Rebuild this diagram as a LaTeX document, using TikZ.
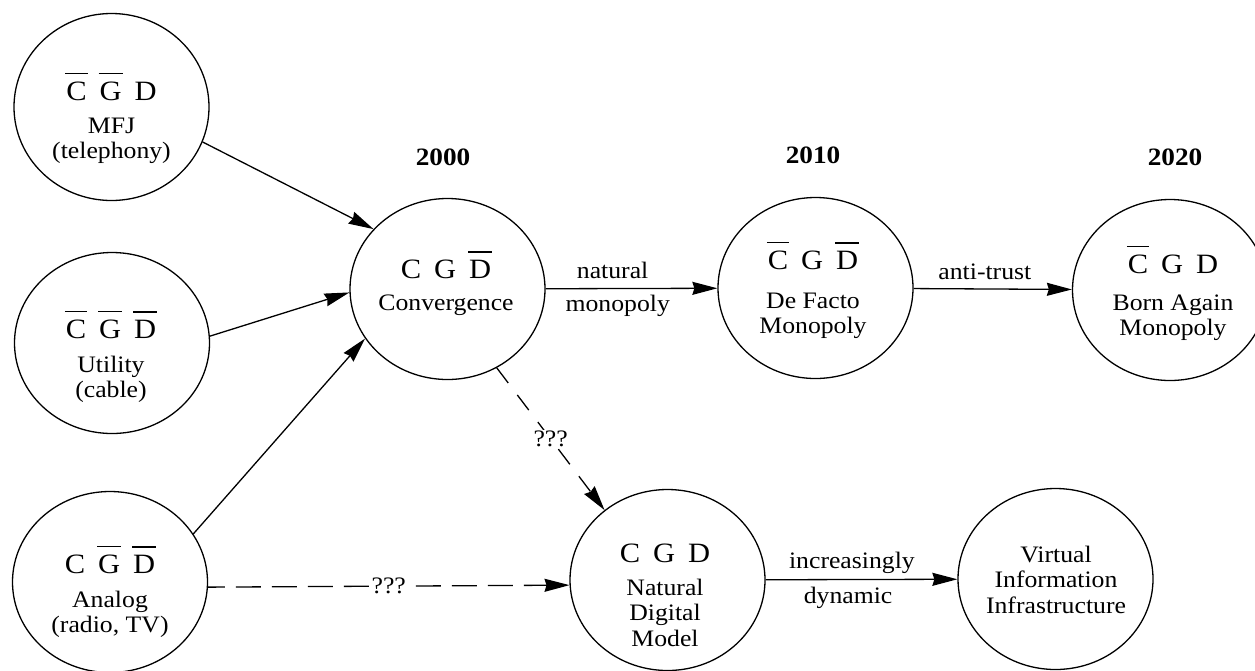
\documentclass[tikz,border=0pt]{standalone}
\usepackage{fontspec}
\setmainfont{Liberation Serif}[FakeStretch=1.09]
\usetikzlibrary{arrows.meta,shapes.geometric}
\newsavebox\ovlbox
\newcommand\ovl[1]{\sbox\ovlbox{#1}\rlap{\hbox to \wd\ovlbox{\hss\rule[\dimexpr\ht\ovlbox+7pt\relax]{\dimexpr\wd\ovlbox+2pt\relax}{1.3pt}\hss}}\usebox\ovlbox}
\newcommand\cgd[3]{{\fontsize{28}{30}\selectfont #1\hspace{13pt}#2\hspace{13pt}#3}}
\newcommand\bodyfont{\fontsize{23.6}{25.5}\selectfont}
\newcommand\yearfont{\fontsize{25}{27}\selectfont\bfseries}
\newcommand\blk[1]{\begin{tabular}[t]{@{}c@{}}#1\end{tabular}}
\begin{document}
\begin{tikzpicture}[x=1pt,y=-1pt,
  state/.style={ellipse, draw, line width=1.3pt, minimum width=195pt, minimum height=181pt, inner sep=0pt},
  txt/.style={anchor=base, inner sep=0pt, font=\bodyfont},
  lbl/.style={font=\bodyfont, inner sep=0pt, anchor=base},
  qlbl/.style={font=\bodyfont, inner xsep=2pt, inner ysep=1pt, fill=white},
  year/.style={font=\yearfont, inner sep=0pt},
  arr/.style={line width=1.3pt, -{Stealth[length=25pt,width=13pt,inset=2pt]}},
  dshh/.style={arr, dash pattern=on 25pt off 11pt, dash phase=8pt},
  dshd/.style={arr, dash pattern=on 19pt off 15pt}]
\useasboundingbox (0,0) rectangle (1255,670);
\clip (0,0) rectangle (1255,670);

% state ellipses
\node[state, minimum height=187pt] (mfj) at (111.5,107) {};
\node[state] (ut) at (112,343) {};
\node[state] (an) at (110,582) {};
\node[state] (cv) at (447.5,289) {};
\node[state] (df) at (815.5,288) {};
\node[state] (ba) at (1170,290) {};
\node[state] (nd) at (667.5,580) {};
\node[state] (vi) at (1055.5,579) {};

% texts
\node[txt] (mfj-t) at (111.5,100) {\blk{\cgd{\ovl{C}}{\ovl{G}}{D}\\[7.5pt] MFJ\\ (telephony)}};
\node[txt] (ut-t) at (111,338) {\blk{\cgd{\ovl{C}}{\ovl{G}}{\ovl{D}}\\[8.5pt] Utility\\ (cable)}};
\node[txt] (an-t) at (110,573) {\blk{\cgd{C}{\ovl{G}}{\ovl{D}}\\[8.5pt] Analog\\ (radio, TV)}};
\node[txt] (cv-t) at (446,278) {\blk{\cgd{C}{G}{\ovl{D}}\\[6.5pt] Convergence}};
\node[txt] (df-t) at (813,269) {\blk{\cgd{\ovl{C}}{G}{\ovl{D}}\\[13.5pt] De Facto\\ Monopoly}};
\node[txt] (ba-t) at (1173,273) {\blk{\cgd{\ovl{C}}{G}{D}\\[11.5pt] Born Again\\ Monopoly}};
\node[txt] (nd-t) at (665,562) {\blk{\cgd{C}{G}{D}\\[7.5pt] Natural\\ Digital\\ Model}};
\node[txt] (vi-t) at (1056,562) {\blk{Virtual\\ Information\\ Infrastructure}};

% years
\node[year] (y2000) at (443,157) {2000};
\node[year] (y2010) at (813,155) {2010};
\node[year] (y2020) at (1175,157) {2020};

% connectors
\draw[arr] (mfj.-21.5) -- (cv.141.8);
\draw[arr] (ut.4.7) -- (cv.182.3);
\draw[arr] (an.30.6) -- (cv.211.8);
\draw[arr] (cv) -- (df)
  node[lbl, pos=0.39, yshift=10pt] (l-nat) {natural}
  node[lbl, pos=0.42, yshift=-23pt] (l-mon) {monopoly};
\draw[arr] (df) -- (ba)
  node[lbl, pos=0.45, yshift=9.5pt] (l-at) {anti-trust};
\draw[arr] (nd) -- (vi)
  node[lbl, pos=0.45, yshift=11pt] (l-inc) {increasingly}
  node[lbl, pos=0.43, yshift=-24pt] (l-dyn) {dynamic};
\draw[dshd] (cv.-58) -- (nd.132) node[qlbl, midway] (q1) {???};
\draw[dshh] (an.-3) -- (nd.183) node[qlbl, pos=0.5] (q2) {???};
\end{tikzpicture}
\end{document}
